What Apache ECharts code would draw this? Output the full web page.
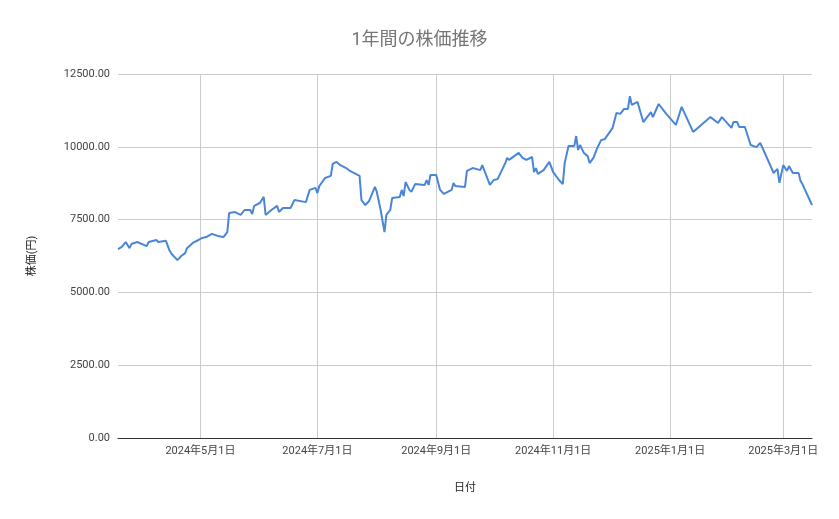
<!DOCTYPE html>
<html>
<head>
<meta charset="UTF-8">
<title>株価推移</title>
<script type="text/javascript" src="https://cdn.jsdelivr.net/npm/echarts@6/dist/echarts.min.js"></script>
<style>body{margin:0;background:#fff;}</style>
</head>
<body>
<div id="main" style="width: 839px; height: 519px"></div>
<script type="text/javascript">
	// 日付と終値(目視で読み取り)
	var days = ['2024-03-19','2024-03-21','2024-03-23','2024-03-25','2024-03-26','2024-03-29','2024-04-03','2024-04-04','2024-04-08','2024-04-09',
		'2024-04-13','2024-04-15','2024-04-16','2024-04-19','2024-04-21','2024-04-23','2024-04-24','2024-04-27','2024-04-30','2024-05-02',
		'2024-05-04','2024-05-07','2024-05-10','2024-05-13','2024-05-15','2024-05-16','2024-05-19','2024-05-22','2024-05-24','2024-05-27',
		'2024-05-28','2024-05-29','2024-06-01','2024-06-03','2024-06-04','2024-06-07','2024-06-10','2024-06-11','2024-06-13','2024-06-17',
		'2024-06-19','2024-06-25','2024-06-26','2024-06-27','2024-06-30','2024-07-01','2024-07-02','2024-07-05','2024-07-08','2024-07-09',
		'2024-07-11','2024-07-13','2024-07-16','2024-07-18','2024-07-23','2024-07-24','2024-07-26','2024-07-28','2024-07-31','2024-08-01',
		'2024-08-03','2024-08-05','2024-08-06','2024-08-08','2024-08-09','2024-08-13','2024-08-14','2024-08-15','2024-08-16','2024-08-18',
		'2024-08-19','2024-08-21','2024-08-26','2024-08-27','2024-08-28','2024-08-29','2024-09-01','2024-09-03','2024-09-05','2024-09-09',
		'2024-09-10','2024-09-11','2024-09-16','2024-09-17','2024-09-20','2024-09-24','2024-09-25','2024-09-26','2024-09-29','2024-10-01',
		'2024-10-03','2024-10-07','2024-10-08','2024-10-09','2024-10-14','2024-10-16','2024-10-18','2024-10-21','2024-10-22','2024-10-23',
		'2024-10-24','2024-10-27','2024-10-30','2024-10-31','2024-11-01','2024-11-04','2024-11-06','2024-11-07','2024-11-09','2024-11-12',
		'2024-11-13','2024-11-14','2024-11-15','2024-11-17','2024-11-19','2024-11-20','2024-11-22','2024-11-24','2024-11-26','2024-11-28',
		'2024-12-02','2024-12-04','2024-12-06','2024-12-08','2024-12-10','2024-12-11','2024-12-12','2024-12-15','2024-12-18','2024-12-19',
		'2024-12-22','2024-12-23','2024-12-26','2024-12-30','2025-01-04','2025-01-07','2025-01-13','2025-01-22','2025-01-26','2025-01-28',
		'2025-02-02','2025-02-03','2025-02-05','2025-02-06','2025-02-09','2025-02-12','2025-02-15','2025-02-17','2025-02-18','2025-02-24',
		'2025-02-26','2025-02-27','2025-03-01','2025-03-03','2025-03-04','2025-03-06','2025-03-09','2025-03-10','2025-03-11','2025-03-16'];
	var prices = [6490,6560,6730,6520,6660,6730,6590,6730,6800,6730,
		6770,6420,6320,6110,6250,6350,6520,6700,6800,6870,
		6900,7010,6940,6900,7070,7730,7760,7660,7830,7830,
		7690,7970,8070,8280,7660,7830,7970,7760,7900,7900,
		8170,8100,8310,8520,8590,8410,8650,8930,9000,9410,
		9480,9370,9270,9170,9000,8170,8000,8140,8620,8450,
		7830,7070,7660,7830,8240,8280,8520,8310,8790,8520,
		8450,8720,8690,8860,8690,9030,9030,8520,8380,8520,
		8760,8650,8620,9170,9270,9200,9370,9200,8690,8860,
		8890,9440,9620,9550,9790,9620,9550,9650,9130,9270,
		9070,9200,9480,9510,9130,8860,8720,9440,10030,10030,
		10370,9890,10060,9790,9680,9440,9620,9960,10230,10270,
		10650,11160,11130,11300,11300,11740,11440,11540,10850,10820,
		11190,11020,11470,11130,10750,11370,10510,11020,10820,11020,
		10650,10850,10850,10680,10680,10060,9990,10130,9990,9100,
		9240,8760,9370,9170,9340,9100,9100,8830,8720,8000];
	var tickDays = ['2024-05-01','2024-07-01','2024-09-01','2024-11-01','2025-01-01','2025-03-01'];

	var points = [];
	for (var i = 0; i < days.length; i++) {
		points.push([+new Date(days[i] + 'T00:00:00'), prices[i]]);
	}
	var ticks = tickDays.map(function (d) { return +new Date(d + 'T00:00:00'); });

	function fmtDate(v) {
		var d = new Date(v);
		return d.getFullYear() + '年' + (d.getMonth() + 1) + '月' + d.getDate() + '日';
	}

	var mychart = echarts.init(document.getElementById('main'));
	var font = 'Roboto, "Noto Sans CJK JP", sans-serif';
	var option = {
		animation: false,
		title: {
			text: '1年間の株価推移',
			left: 'center',
			top: 27,
			textStyle: { color: '#757575', fontSize: 18, fontWeight: 'normal', fontFamily: font }
		},
		grid: { left: 118, right: 27, top: 74, bottom: 81 },
		xAxis: {
			type: 'value',
			min: +new Date('2024-03-19T00:00:00'),
			max: +new Date('2025-03-16T00:00:00'),
			name: '日付',
			nameLocation: 'middle',
			nameGap: 45,
			nameTextStyle: { color: '#222', fontSize: 11, fontFamily: font },
			axisLine: { lineStyle: { color: '#333', width: 1 } },
			axisTick: { show: false },
			splitLine: { show: false },
			axisLabel: { show: false }
		},
		yAxis: {
			type: 'value',
			min: 0, max: 12500, interval: 2500,
			name: '株価(円)',
			nameLocation: 'middle',
			nameGap: 80,
			nameTextStyle: { color: '#222', fontSize: 11, fontFamily: font },
			axisLine: { show: false },
			axisTick: { show: false },
			splitLine: { lineStyle: { color: '#ccc' } },
			axisLabel: {
				color: '#444', fontSize: 11, fontFamily: font, margin: 8,
				formatter: function (v) { return v.toFixed(2); }
			}
		},
		series: [{
			name: '株価',
			type: 'line',
			data: points,
			showSymbol: false,
			z: 3,
			lineStyle: { color: '#4a86d8', width: 2 },
			markLine: {
				silent: true,
				symbol: 'none',
				z: 1,
				label: {
					show: true,
					position: 'start',
					distance: 8,
					color: '#444', fontSize: 11, fontFamily: font,
					formatter: function (p) { return fmtDate(p.value); }
				},
				lineStyle: { color: '#ccc', type: 'solid', width: 1 },
				data: ticks.map(function (t) { return { xAxis: t }; })
			}
		}]
	};
	mychart.setOption(option);
</script>
</body>
</html>
